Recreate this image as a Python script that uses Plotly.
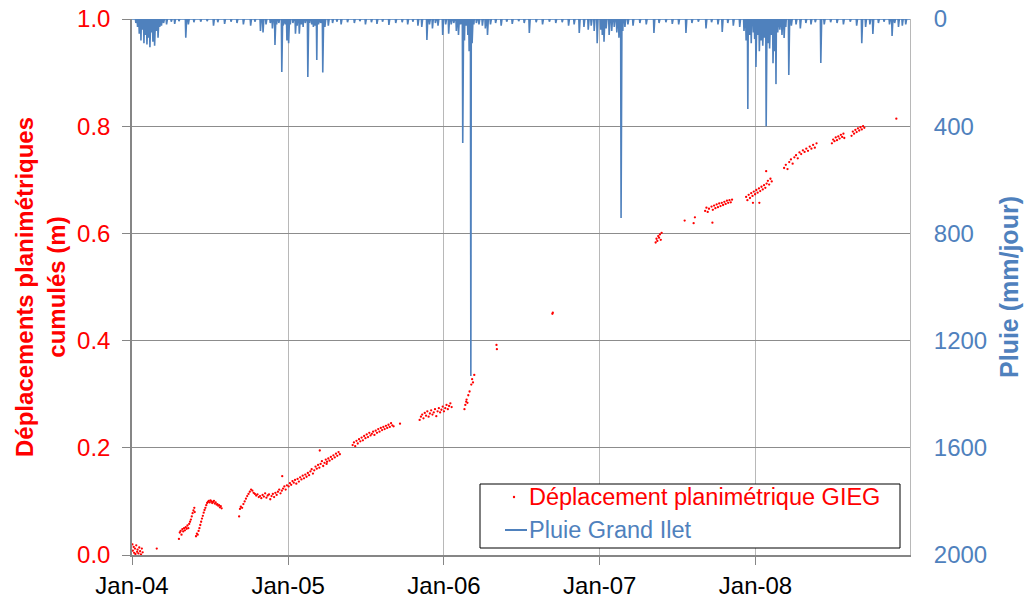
import plotly.graph_objects as go
import pandas as pd

# ---------------- Data ----------------
disp_dates = [
 "2004-01-02","2004-01-03","2004-01-05","2004-01-06","2004-01-08","2004-01-09","2004-01-11","2004-01-13","2004-01-14","2004-01-16","2004-01-18","2004-01-20","2004-01-22","2004-01-24","2004-01-26",
 "2004-02-28",
 "2004-04-20","2004-04-22","2004-04-24","2004-04-26","2004-04-28","2004-04-30","2004-05-02","2004-05-04","2004-05-06","2004-05-08","2004-05-10","2004-05-12","2004-05-14","2004-05-16","2004-05-18","2004-05-20","2004-05-22","2004-05-24","2004-05-26","2004-05-27",
 "2004-05-30","2004-06-01","2004-06-03","2004-06-05","2004-06-07","2004-06-09","2004-06-11","2004-06-13","2004-06-15","2004-06-17","2004-06-19","2004-06-21","2004-06-23","2004-06-25","2004-06-27","2004-06-29","2004-07-01","2004-07-03","2004-07-05","2004-07-07","2004-07-09","2004-07-11","2004-07-13","2004-07-15","2004-07-17","2004-07-19","2004-07-21","2004-07-23","2004-07-25","2004-07-27","2004-07-29",
 "2004-09-08","2004-09-10","2004-09-12","2004-09-15","2004-09-18","2004-09-21","2004-09-24","2004-09-27","2004-09-30","2004-10-03","2004-10-06","2004-10-09","2004-10-12","2004-10-15","2004-10-18","2004-10-21","2004-10-24","2004-10-27","2004-10-30","2004-11-02","2004-11-05","2004-11-08","2004-11-11","2004-11-14","2004-11-17","2004-11-20","2004-11-23","2004-11-26","2004-11-29","2004-12-02","2004-12-05","2004-12-08","2004-12-11","2004-12-14","2004-12-17","2004-12-20","2004-12-23","2004-12-26","2004-12-29","2004-12-18",
 "2005-01-02","2005-01-05","2005-01-08","2005-01-11","2005-01-14","2005-01-17","2005-01-20","2005-01-23","2005-01-26","2005-01-29","2005-02-01","2005-02-04","2005-02-07","2005-02-10","2005-02-13","2005-02-16","2005-02-19","2005-02-22","2005-02-25","2005-02-28","2005-03-03","2005-03-06","2005-03-09","2005-03-12","2005-03-15","2005-03-18","2005-03-21","2005-03-24","2005-03-27","2005-03-30","2005-04-02","2005-04-05","2005-04-08","2005-04-11","2005-04-14","2005-04-17","2005-04-20","2005-04-23","2005-04-26","2005-04-29","2005-05-02","2005-03-16","2005-04-01",
 "2005-06-01","2005-06-04","2005-06-07","2005-06-10","2005-06-13","2005-06-16","2005-06-19","2005-06-22","2005-06-25","2005-06-28","2005-07-01","2005-07-04","2005-07-07","2005-07-10","2005-07-13","2005-07-16","2005-07-19","2005-07-22","2005-07-25","2005-07-28","2005-07-31","2005-08-03","2005-08-06","2005-08-09","2005-08-12","2005-08-15","2005-08-18","2005-08-21","2005-08-24","2005-08-27","2005-08-30","2005-09-02","2005-09-05","2005-09-20",
 "2005-11-05","2005-11-08","2005-11-11","2005-11-14","2005-11-17","2005-11-20","2005-11-23","2005-11-26","2005-11-29","2005-12-02","2005-12-05","2005-12-08","2005-12-11","2005-12-14","2005-12-17","2005-12-20","2005-12-23","2005-12-26","2005-12-29","2006-01-01","2006-01-04","2006-01-07","2006-01-10","2006-01-13","2006-01-16","2006-01-19",
 "2006-02-18","2006-02-20","2006-02-22","2006-02-23","2006-02-25","2006-02-27","2006-03-02","2006-03-06","2006-03-08","2006-03-10","2006-03-13",
 "2006-05-04","2006-05-05","2006-09-12","2006-09-13",
 "2007-05-12","2007-05-14","2007-05-16","2007-05-18","2007-05-20","2007-05-22","2007-05-24","2007-05-26",
 "2007-07-19","2007-08-09","2007-08-12",
 "2007-09-05","2007-09-08","2007-09-11","2007-09-14","2007-09-22","2007-09-20","2007-09-23","2007-09-26","2007-09-29","2007-10-02","2007-10-05","2007-10-08","2007-10-11","2007-10-14","2007-10-17","2007-10-20","2007-10-23","2007-10-26","2007-10-29","2007-11-01","2007-11-04","2007-11-07",
 "2007-12-10","2007-12-13","2007-12-16","2007-12-19","2007-12-22","2007-12-25","2007-12-28","2007-12-31","2008-01-03","2008-01-06","2008-01-09","2008-01-12","2008-01-15","2008-01-18","2008-01-21","2008-01-24","2008-01-27","2008-01-30","2008-02-02","2008-02-05","2008-02-08","2007-12-26","2008-01-26","2008-01-10",
 "2008-03-08","2008-03-12","2008-03-16","2008-03-20","2008-03-24","2008-03-28","2008-04-01","2008-04-05","2008-04-09","2008-04-13","2008-04-17","2008-04-21","2008-04-25","2008-04-29","2008-05-03","2008-05-07","2008-05-11","2008-05-15","2008-05-19","2008-05-23",
 "2008-06-28","2008-07-01","2008-07-04","2008-07-07","2008-07-10","2008-07-13","2008-07-16","2008-07-19","2008-07-22","2008-07-25","2008-07-27",
 "2008-08-13","2008-08-16","2008-08-19","2008-08-22","2008-08-25","2008-08-28","2008-08-31","2008-09-03","2008-09-06","2008-09-09","2008-09-12",
 "2008-11-26",
]
disp_values = [
 0.020,0.008,0.015,0.004,0.012,0.002,0.018,0.006,0.010,0.003,0.014,0.007,0.001,0.012,0.005,
 0.012,
 0.030,0.042,0.045,0.038,0.048,0.044,0.050,0.046,0.052,0.049,0.055,0.050,0.058,0.062,0.066,0.072,0.078,0.083,0.088,0.080,
 0.035,0.040,0.038,0.045,0.050,0.056,0.062,0.068,0.073,0.079,0.084,0.088,0.093,0.097,0.099,0.101,0.098,0.102,0.100,0.097,0.099,0.101,0.096,0.098,0.094,0.095,0.092,0.093,0.089,0.091,0.087,
 0.072,0.086,0.090,0.088,0.095,0.100,0.105,0.110,0.114,0.118,0.122,0.120,0.116,0.114,0.111,0.113,0.108,0.110,0.106,0.112,0.109,0.115,0.107,0.111,0.113,0.104,0.110,0.114,0.108,0.116,0.112,0.118,0.122,0.115,0.120,0.124,0.128,0.122,0.130,0.147,
 0.128,0.134,0.131,0.138,0.135,0.140,0.133,0.142,0.137,0.145,0.141,0.148,0.143,0.150,0.146,0.153,0.149,0.156,0.160,0.152,0.158,0.165,0.161,0.168,0.163,0.170,0.175,0.166,0.172,0.178,0.174,0.180,0.176,0.183,0.179,0.186,0.182,0.189,0.185,0.192,0.188,0.195,0.170,
 0.205,0.210,0.203,0.213,0.208,0.216,0.212,0.219,0.214,0.222,0.218,0.225,0.220,0.228,0.223,0.226,0.230,0.224,0.232,0.228,0.235,0.230,0.237,0.233,0.239,0.235,0.241,0.237,0.243,0.239,0.246,0.242,0.240,0.245,
 0.252,0.258,0.262,0.255,0.265,0.260,0.268,0.258,0.264,0.270,0.262,0.266,0.272,0.259,0.268,0.274,0.266,0.271,0.277,0.268,0.274,0.280,0.272,0.278,0.283,0.276,
 0.272,0.280,0.286,0.290,0.284,0.298,0.305,0.318,0.328,0.322,0.336,
 0.392,0.384,0.450,0.452,
 0.583,0.590,0.586,0.595,0.592,0.598,0.588,0.601,
 0.624,0.619,0.630,
 0.642,0.648,0.640,0.646,0.620,0.650,0.644,0.652,0.647,0.654,0.649,0.656,0.651,0.657,0.653,0.659,0.655,0.661,0.657,0.662,0.658,0.663,
 0.668,0.662,0.672,0.666,0.675,0.670,0.678,0.673,0.681,0.676,0.684,0.679,0.687,0.682,0.690,0.685,0.693,0.698,0.691,0.702,0.697,0.657,0.716,0.657,
 0.722,0.728,0.720,0.733,0.738,0.730,0.742,0.746,0.740,0.751,0.748,0.755,0.752,0.758,0.754,0.762,0.758,0.765,0.760,0.768,
 0.768,0.775,0.772,0.779,0.774,0.781,0.777,0.784,0.780,0.786,0.778,
 0.782,0.790,0.786,0.793,0.789,0.796,0.792,0.798,0.794,0.800,0.797,
 0.814,
]

rain_dates = [
 "2004-01-10","2004-01-14","2004-01-18","2004-01-22","2004-01-25","2004-01-29","2004-02-02","2004-02-05","2004-02-09","2004-02-12","2004-02-15","2004-02-19","2004-02-23","2004-02-27","2004-03-02","2004-03-06","2004-03-10","2004-03-15","2004-03-22","2004-04-02","2004-04-10","2004-04-20","2004-05-06","2004-05-12","2004-05-25","2004-06-10","2004-06-25","2004-07-10","2004-07-20","2004-08-05","2004-08-20","2004-09-03","2004-09-18","2004-10-05","2004-10-15","2004-10-28","2004-11-03","2004-11-10","2004-11-20","2004-11-25","2004-12-01","2004-12-05","2004-12-10","2004-12-17","2004-12-20","2004-12-25","2004-12-29",
 "2005-01-02","2005-01-06","2005-01-12","2005-01-18","2005-01-22","2005-01-27","2005-02-01","2005-02-05","2005-02-10","2005-02-16","2005-02-20","2005-02-25","2005-03-01","2005-03-05","2005-03-09","2005-03-13","2005-03-18","2005-03-23","2005-03-28","2005-04-05","2005-04-15","2005-04-25","2005-05-05","2005-05-20","2005-06-05","2005-06-18","2005-07-01","2005-07-15","2005-07-28","2005-08-10","2005-08-25","2005-09-10","2005-09-25","2005-10-08","2005-10-20","2005-11-01","2005-11-10","2005-11-22","2005-11-28","2005-12-05","2005-12-12","2005-12-18","2005-12-29",
 "2006-01-05","2006-01-12","2006-01-18","2006-01-24","2006-01-30","2006-02-04","2006-02-09","2006-02-14","2006-02-18","2006-02-22","2006-02-26","2006-03-01","2006-03-05","2006-03-08","2006-03-12","2006-03-18","2006-03-24","2006-04-01","2006-04-08","2006-04-13","2006-04-20","2006-05-02","2006-05-15","2006-05-28","2006-06-10","2006-06-25","2006-07-08","2006-07-20","2006-08-05","2006-08-20","2006-09-05","2006-09-20","2006-10-05","2006-10-20","2006-11-02","2006-11-14","2006-11-25","2006-12-05","2006-12-12","2006-12-19","2006-12-26",
 "2007-01-03","2007-01-07","2007-01-11","2007-01-16","2007-01-23","2007-01-29","2007-02-04","2007-02-10","2007-02-15","2007-02-20","2007-02-24","2007-03-01","2007-03-08","2007-03-20","2007-04-05","2007-04-20","2007-05-08","2007-05-20","2007-06-05","2007-06-20","2007-07-05","2007-07-22","2007-08-05","2007-08-20","2007-09-07","2007-09-20","2007-10-05","2007-10-15","2007-10-28","2007-11-10","2007-11-25","2007-12-05","2007-12-10","2007-12-14","2007-12-18","2007-12-22","2007-12-27","2007-12-30",
 "2008-01-02","2008-01-06","2008-01-10","2008-01-14","2008-01-18","2008-01-22","2008-01-26","2008-01-30","2008-02-03","2008-02-07","2008-02-11","2008-02-14","2008-02-18","2008-02-22","2008-02-27","2008-03-03","2008-03-08","2008-03-12","2008-03-19","2008-03-25","2008-04-05","2008-04-15","2008-04-28","2008-05-10","2008-05-20","2008-06-02","2008-06-10","2008-06-25","2008-07-10","2008-07-25","2008-08-10","2008-08-25","2008-09-06","2008-09-15","2008-09-25","2008-10-02","2008-10-15","2008-10-28","2008-11-10","2008-11-16","2008-11-22","2008-12-01","2008-12-10","2008-12-18",
]
rain_values = [
 15,30,55,80,40,90,60,95,70,105,50,85,100,45,70,30,25,15,20,10,18,8,70,20,12,10,8,25,12,18,10,15,20,25,10,45,50,20,15,35,97,20,15,198,25,20,80,
 90,20,15,55,25,55,20,30,15,216,15,20,30,25,153,20,15,200,30,25,15,10,20,12,15,8,20,12,18,10,22,15,12,20,10,25,30,78,20,35,15,25,60,
 20,55,20,15,45,60,20,463,80,25,60,120,1332,90,20,15,20,25,35,60,20,15,25,10,18,8,15,52,12,20,10,15,12,25,20,52,30,40,25,45,90,
 40,60,85,35,60,45,30,50,70,743,45,30,20,25,15,20,52,15,12,18,20,52,15,10,35,12,20,48,15,25,30,45,80,336,60,90,50,75,
 179,60,120,80,100,70,400,90,110,60,165,120,243,50,40,60,71,30,209,25,20,35,15,20,12,164,20,12,15,20,10,25,90,30,20,56,15,10,20,63,15,30,25,20,
]

x_tickvals = ["2004-01-01", "2005-01-01", "2006-01-01", "2007-01-01", "2008-01-01"]
x_ticktext = ["Jan-04", "Jan-05", "Jan-06", "Jan-07", "Jan-08"]

legend_labels = ["Déplacement planimétrique GIEG", "Pluie Grand Ilet"]

# daily rain series (days without listed rain = 0 mm)
days = pd.date_range("2004-01-01", "2008-12-31", freq="D")
rain_daily = pd.Series(0.0, index=days)
rain_daily.loc[pd.to_datetime(rain_dates)] = rain_values

RED = "#FF0000"
BLUE = "#4F81BD"
FONT = "Liberation Sans, Arial, sans-serif"

fig = go.Figure()
fig.add_trace(go.Scatter(
    x=pd.to_datetime(disp_dates), y=disp_values, mode="markers",
    marker=dict(color=RED, size=2.3, line=dict(width=0)),
    name=legend_labels[0], yaxis="y", showlegend=False,
))
fig.add_trace(go.Scatter(
    x=rain_daily.index, y=rain_daily.values, mode="lines",
    line=dict(color=BLUE, width=1.6),
    name=legend_labels[1], yaxis="y2", showlegend=False,
))

# ---- legend box (framed key as in the original) ----
# plot area spans 132..910 px horizontally, 19..555 px vertically
def px_x(p):
    return (p - 132) / 778.0
def px_y(p):
    return (555 - p) / 536.0

shapes = [
    dict(type="rect", xref="paper", yref="paper",
         x0=px_x(480), x1=px_x(900), y0=px_y(548), y1=px_y(484),
         line=dict(color="#000000", width=1), fillcolor="white", layer="above"),
    dict(type="circle", xref="paper", yref="paper", xsizemode="pixel", ysizemode="pixel",
         xanchor=px_x(514), yanchor=px_y(497), x0=-1.2, x1=1.2, y0=-1.2, y1=1.2,
         fillcolor=RED, line=dict(width=0), layer="above"),
    dict(type="line", xref="paper", yref="paper",
         x0=px_x(505), x1=px_x(527), y0=px_y(530), y1=px_y(530),
         line=dict(color=BLUE, width=2), layer="above"),
]
annotations = [
    dict(text=legend_labels[0], xref="paper", yref="paper", x=px_x(527), y=px_y(497),
         xanchor="left", yanchor="middle", showarrow=False,
         font=dict(size=23.5, color=RED, family=FONT)),
    dict(text=legend_labels[1], xref="paper", yref="paper", x=px_x(527), y=px_y(530),
         xanchor="left", yanchor="middle", showarrow=False,
         font=dict(size=23.5, color=BLUE, family=FONT)),
]

fig.update_layout(
    width=1027, height=601,
    margin=dict(l=132, r=117, t=19, b=46),
    paper_bgcolor="white", plot_bgcolor="white",
    font=dict(family=FONT, size=24, color="#000000"),
    showlegend=False,
    shapes=shapes, annotations=annotations,
    xaxis=dict(
        type="date", range=["2004-01-01", "2008-12-28"],
        tickmode="array", tickvals=x_tickvals, ticktext=x_ticktext,
        showgrid=True, gridcolor="#B8B8B8", gridwidth=1,
        showline=True, linecolor="#868686", linewidth=1.5,
        ticks="outside", ticklen=8, tickcolor="#868686",
        tickfont=dict(size=24, color="#000000"),
        ticklabelstandoff=0,
        zeroline=False, automargin=False,
    ),
    yaxis=dict(
        range=[0, 1], dtick=0.2, tickformat=".1f",
        showgrid=True, gridcolor="#8C8C8C", gridwidth=1,
        showline=True, linecolor="#868686", linewidth=1.5,
        ticks="outside", ticklen=8, tickcolor="#868686",
        tickfont=dict(size=24, color=RED),
        ticklabelstandoff=7, ticklabeloverflow="allow",
        title=dict(text="<b>Déplacements planimétriques<br>cumulés (m)</b>",
                   font=dict(size=24, color=RED), standoff=5),
        zeroline=False, automargin=False,
    ),
    yaxis2=dict(
        overlaying="y", side="right", range=[2000, 0], dtick=400,
        showgrid=False, showline=True, linecolor="#B8B8B8", linewidth=1,
        ticks="", tickfont=dict(size=24, color=BLUE),
        ticklabelstandoff=18, ticklabeloverflow="allow",
        title=dict(text="<b>Pluie (mm/jour)</b>",
                   font=dict(size=25, color=BLUE), standoff=14),
        zeroline=False, automargin=False,
    ),
)

fig.write_html("out.html", config={"displayModeBar": False},
               post_script="document.body.style.margin='0px';")
